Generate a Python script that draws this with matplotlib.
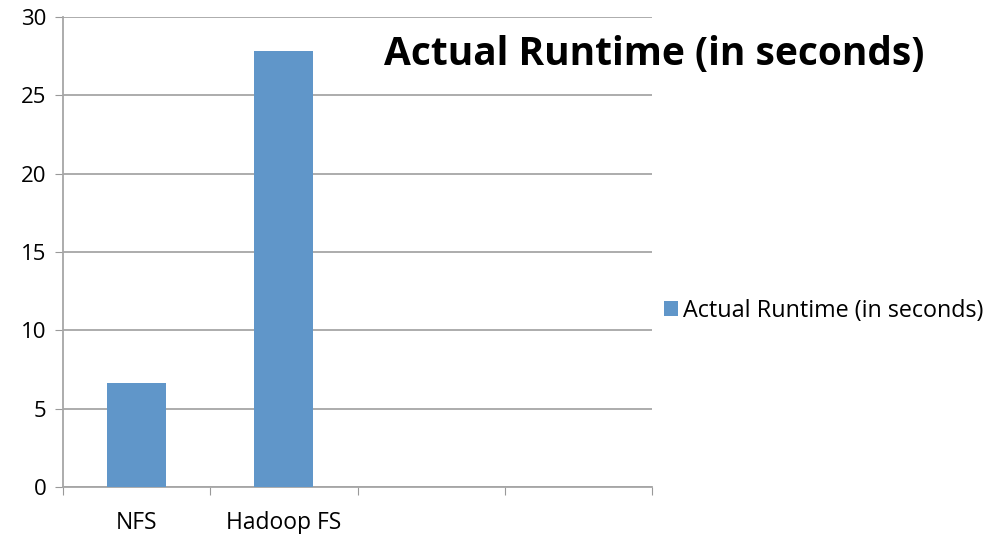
import matplotlib.pyplot as plt

categories = ["NFS", "Hadoop FS", "", ""]
runtime = [6.62, 27.85, 0, 0]
series_name = "Actual Runtime (in seconds)"
y_ticks = [0, 5, 10, 15, 20, 25, 30]

plt.rcParams["font.family"] = ["Open Sans", "DejaVu Sans"]

fig = plt.figure(figsize=(9.86, 5.34), dpi=100)
ax = fig.add_axes([0.0639, 0.088, 0.5974, 0.880])

xs = list(range(len(categories)))
bars = ax.bar(xs[:2], runtime[:2], width=0.4, color="#6096c9",
              label=series_name, zorder=3)

ax.set_xlim(-0.5, len(categories) - 0.5)
ax.set_ylim(0, 30)
ax.set_yticks(y_ticks)
ax.set_yticklabels([str(t) for t in y_ticks], fontsize=16)
ax.set_xticks([x - 0.5 for x in xs] + [len(categories) - 0.5])
ax.set_xticklabels([])
ax.set_xticks(xs, minor=True)
ax.set_xticklabels(categories, minor=True, fontsize=16.5)
ax.tick_params(axis="x", which="minor", length=0, pad=17)
ax.tick_params(axis="x", which="major", length=6, color="#999999", direction="out")
ax.tick_params(axis="y", length=6, color="#999999", direction="out", pad=6)

ax.grid(axis="y", color="#a6a6a6", linewidth=1.3, zorder=0)
for side in ["top", "right"]:
    ax.spines[side].set_visible(False)
for side in ["left", "bottom"]:
    ax.spines[side].set_color("#a6a6a6")
    ax.spines[side].set_linewidth(1.3)

fig.text(0.663, 0.898, series_name, fontsize=28, fontweight="bold",
         ha="center", va="center")

fig.legend(handles=[bars], labels=[series_name], loc="center left",
           bbox_to_anchor=(0.673, 0.418), frameon=False, fontsize=16.8,
           handlelength=0.6, handleheight=0.6, handletextpad=0.25,
           borderpad=0, borderaxespad=0)

fig.savefig("out.png", dpi=100)
